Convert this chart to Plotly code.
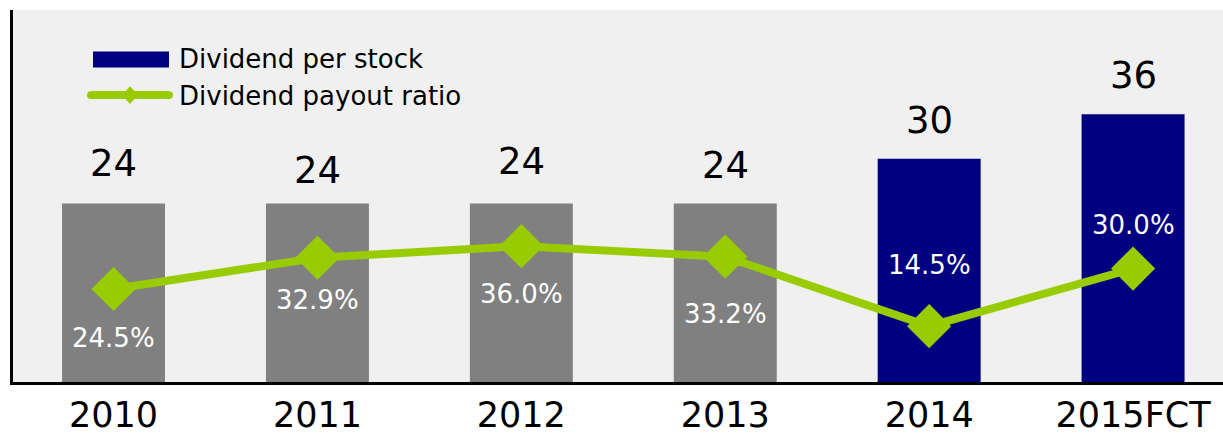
import plotly.graph_objects as go

# Dividend data by fiscal year
years = ["2010", "2011", "2012", "2013", "2014", "2015FCT"]
dividend_per_stock = [24, 24, 24, 24, 30, 36]
payout_ratio = [24.5, 32.9, 36.0, 33.2, 14.5, 30.0]

# Styling
bar_colors = ["#808080"] * 4 + ["#000080"] * 2
green = "#99cc00"
font_family = "DejaVu Sans"
value_label_shift = [40, 33, 42, 38, 38, 39]          # px above bar top
ratio_label_shift = [-49, -42, -48, -57, 61, 44]       # px from marker centre

W, H = 1223, 435
M_L, M_R, M_T, M_B = 13, 0, 10, 49
plot_w = W - M_L - M_R
plot_h = H - M_T - M_B


def px_x(p):
    return (p - M_L) / plot_w


def px_y(p):
    return (H - M_B - p) / plot_h


fig = go.Figure()

fig.add_trace(go.Bar(
    x=years, y=dividend_per_stock, width=0.505,
    marker=dict(color=bar_colors, line=dict(width=0)),
    name="Dividend per stock", showlegend=False,
    yaxis="y",
))

fig.add_trace(go.Scatter(
    x=years, y=payout_ratio, mode="lines+markers",
    line=dict(color=green, width=8),
    marker=dict(symbol="diamond", size=34, color=green),
    name="Dividend payout ratio", showlegend=False,
    yaxis="y2",
))

annotations = []
# category positions are given by index so year strings are not read as numbers
for i, (v, s) in enumerate(zip(dividend_per_stock, value_label_shift)):
    annotations.append(dict(
        x=i, y=v, xref="x", yref="y", text=str(v), showarrow=False,
        yshift=s, font=dict(size=37, color="black", family=font_family),
    ))
for i, (v, s) in enumerate(zip(payout_ratio, ratio_label_shift)):
    annotations.append(dict(
        x=i, y=v, xref="x", yref="y2", text=f"{v:.1f}%", showarrow=False,
        yshift=s, font=dict(size=26, color="white", family=font_family),
    ))

# Legend drawn by hand: wide swatch for the bars, line with diamond for the ratio
legend_font = dict(size=26, color="black", family=font_family)
annotations.append(dict(
    x=px_x(177), y=px_y(60), xref="paper", yref="paper",
    xanchor="left", yanchor="middle",
    text="Dividend per stock", showarrow=False, font=legend_font,
))
annotations.append(dict(
    x=px_x(177), y=px_y(97), xref="paper", yref="paper",
    xanchor="left", yanchor="middle",
    text="Dividend payout ratio", showarrow=False, font=legend_font,
))

shapes = [
    dict(type="rect", xref="paper", yref="paper",
         x0=px_x(93), x1=px_x(169), y0=px_y(68), y1=px_y(52),
         fillcolor="#000080", line=dict(width=0)),
    dict(type="line", xref="paper", yref="paper",
         x0=px_x(91), x1=px_x(169), y0=px_y(96), y1=px_y(96),
         line=dict(color=green, width=8)),
    dict(type="circle", xref="paper", yref="paper",
         x0=px_x(87), x1=px_x(95), y0=px_y(100), y1=px_y(92),
         fillcolor=green, line=dict(width=0)),
    dict(type="circle", xref="paper", yref="paper",
         x0=px_x(165), x1=px_x(173), y0=px_y(100), y1=px_y(92),
         fillcolor=green, line=dict(width=0)),
    dict(type="path", xref="paper", yref="paper",
         path=(f"M {px_x(122)} {px_y(96)} L {px_x(130)} {px_y(87)} "
               f"L {px_x(138)} {px_y(96)} L {px_x(130)} {px_y(105)} Z"),
         fillcolor=green, line=dict(width=0)),
]

fig.update_layout(
    width=W, height=H,
    margin=dict(l=M_L, r=M_R, t=M_T, b=M_B),
    paper_bgcolor="white",
    plot_bgcolor="#f0f0f0",
    font=dict(family=font_family, color="black"),
    bargap=0.495,
    xaxis=dict(
        type="category", range=[-0.493, 5.441],
        showline=True, linecolor="black", linewidth=2.5,
        showgrid=False, ticks="", zeroline=False,
        tickfont=dict(size=35, color="black", family=font_family),
    ),
    yaxis=dict(
        range=[0, 50], showline=True, linecolor="black", linewidth=2.5,
        showgrid=False, zeroline=False, showticklabels=False, ticks="",
    ),
    yaxis2=dict(
        range=[-0.5, 99.5], overlaying="y", side="right",
        showline=False, showgrid=False, zeroline=False,
        showticklabels=False, ticks="",
    ),
    annotations=annotations,
    shapes=shapes,
    showlegend=False,
)

fig.write_html("out.html")
